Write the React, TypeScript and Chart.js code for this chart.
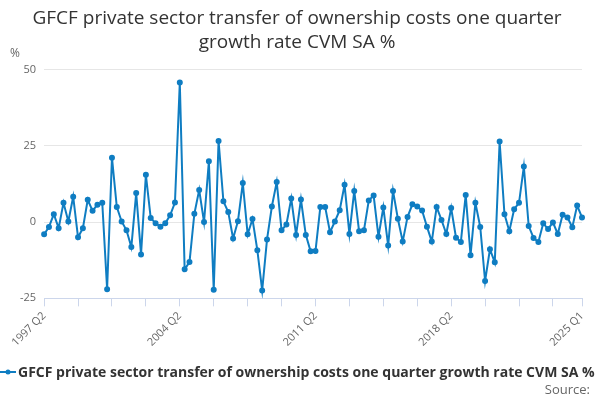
import React, { useEffect, useRef } from "react";
import { Chart, registerables } from "chart.js";
Chart.register(...registerables);

const values: number[] = [
  -4.0, -1.6, 2.6, -2, 6.3, 0.2, 8.3, -5, -2, 7.3, 3.7, 5.7, 6.3, -22, 21.1, 4.9, 0.2, -2.7, -8.2, 9.5,
  -10.6, 15.5, 1.3, -0.4, -1.5, -0.4, 2.2, 6.4, 45.7, -15.5, -13.1, 2.7, 10.5, 0, 19.9, -22.2, 26.6, 6.8, 3.3, -5.4,
  0.3, 12.8, -4, 1, -9.2, -22.4, -5.7, 5.1, 13.1, -2.7, -0.8, 7.7, -4.2, 7.4, -4.2, -9.6, -9.5, 4.9, 4.9, -3.3,
  0.2, 3.9, 12.2, -3.9, 10.2, -3, -2.7, 7.1, 8.7, -4.8, 4.8, -7.7, 10.2, 1.1, -6.4, 1.7, 5.8, 5.1, 3.8, -1.5,
  -6.4, 4.9, 0.7, -3.9, 4.6, -5.1, -6.5, 8.9, -10.9, 6.3, -1.6, -19.3, -8.9, -13.2, 26.4, 2.6, -3, 4.2, 6.3, 18.2,
  -1.3, -5.2, -6.5, -0.4, -2.3, -0.1, -3.9, 2.4, 1.5, -1.7, 5.4, 1.5,
];
const startYear = 1997;
const startQuarter = 2;
const labels: string[] = values.map((_, i) => {
  const q = startQuarter - 1 + i;
  return `${startYear + Math.floor(q / 4)} Q${(q % 4) + 1}`;
});
const seriesName = "GFCF private sector transfer of ownership costs one quarter growth rate CVM SA %";
const titleLines = ["GFCF private sector transfer of ownership costs one quarter", "growth rate CVM SA %"];

export default function App() {
  const ref = useRef<HTMLCanvasElement>(null);
  useEffect(() => {
    document.body.style.margin = "0";
    const last = values.length - 1;
    const chart = new Chart(ref.current!, {
      type: "line",
      data: {
        labels,
        datasets: [{
          label: seriesName, data: values, borderColor: "#0f7dc2", backgroundColor: "#0f7dc2",
          borderWidth: 2, pointRadius: 2, pointHoverRadius: 3, tension: 0,
        }],
      },
      options: {
        animation: false, responsive: false, maintainAspectRatio: false,
        layout: { padding: { left: 12, right: 18, top: 0, bottom: 6 } },
        plugins: {
          legend: { display: false },
          tooltip: { enabled: false },
          title: { display: true, text: titleLines, color: "#333", font: { family: "Open Sans", size: 19, weight: "normal", lineHeight: 1.25 }, padding: { top: 7, bottom: 15 } },
        },
        scales: {
          x: {
            grid: {
              drawOnChartArea: false, drawTicks: true, tickLength: 8,
              color: (c: any) => (c.index % 7 === 0 || c.index === last ? "#ccd6eb" : "transparent"),
            },
            border: { color: "#ccd6eb" },
            ticks: {
              autoSkip: false, maxRotation: 45, minRotation: 45, color: "#666",
              font: { family: "Open Sans", size: 11 },
              callback: (_v: any, i: number) => (i % 28 === 0 || i === last ? labels[i] : ""),
            },
          },
          y: {
            min: -25, max: 50,
            ticks: { stepSize: 25, color: "#666", font: { family: "Open Sans", size: 11 }, padding: 8 },
            grid: { color: "#e6e6e6", drawTicks: false },
            border: { display: false },
          },
        },
      },
    });
    return () => chart.destroy();
  }, []);
  return (
    <div style={{ position: "relative", width: 600, height: 400, overflow: "hidden", fontFamily: "Open Sans" }}>
      <canvas ref={ref} width={600} height={358} />
      <div style={{ position: "absolute", left: 10, top: 44, fontSize: 12, color: "#666" }}>%</div>
      <div style={{ position: "absolute", left: 0, top: 362, whiteSpace: "nowrap", fontSize: 14, fontWeight: "bold", color: "#333", display: "flex", alignItems: "center" }}>
        <svg width="16" height="10" style={{ marginRight: 2 }}>
          <line x1="0" y1="5" x2="16" y2="5" stroke="#0f7dc2" strokeWidth="2" />
          <circle cx="8" cy="5" r="2.5" fill="#0f7dc2" />
        </svg>
        {seriesName}
      </div>
      <div style={{ position: "absolute", right: 10, top: 380, fontSize: 13, color: "#666" }}>Source:</div>
    </div>
  );
}
